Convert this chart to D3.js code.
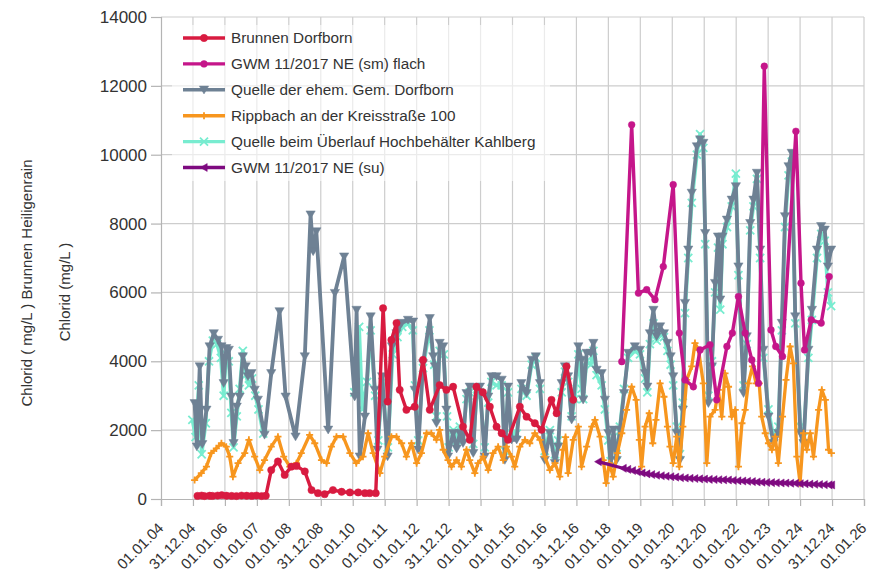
<!DOCTYPE html>
<html>
<head>
<meta charset="utf-8">
<script src="https://cdn.jsdelivr.net/npm/d3@7"></script>
<style>
  html, body { margin: 0; padding: 0; background: #fff; }
  svg { display: block; font-family: "Liberation Sans", Arial, sans-serif; }
</style>
</head>
<body>
<svg id="chart" width="869" height="583"></svg>
<script>
// Chloride measurements (mg/L), dates as decimal years.
const tickLabels = ["01.01.04","31.12.04","01.01.06","01.01.07","01.01.08","31.12.08","01.01.10",
  "01.01.11","01.01.12","31.12.12","01.01.14","01.01.15","01.01.16","31.12.16","01.01.18","01.01.19",
  "01.01.20","31.12.20","01.01.22","01.01.23","01.01.24","31.12.24","01.01.26"];
const yTicks = [0, 2000, 4000, 6000, 8000, 10000, 12000, 14000];

const brunnenDorfborn = [[2005.14,90],[2005.27,100],[2005.36,85],[2005.52,95],[2005.61,90],[2005.77,100],
  [2005.90,110],[2006.05,95],[2006.21,90],[2006.36,85],[2006.52,100],[2006.68,95],[2006.84,90],[2006.99,100],
  [2007.15,85],[2007.28,95],[2007.45,840],[2007.66,1090],[2007.87,700],[2008.08,940],[2008.24,960],[2008.50,800],
  [2008.71,260],[2008.91,170],[2009.12,140],[2009.38,260],[2009.65,210],[2009.91,190],[2010.17,190],[2010.38,170],
  [2010.53,170],[2010.72,170],[2010.95,5540],[2011.09,2830],[2011.21,4620],[2011.37,5110],[2011.47,3170],
  [2011.68,2590],[2011.94,2680],[2012.20,4040],[2012.41,2590],[2012.72,3310],[2012.93,3170],[2013.14,3260],
  [2013.45,2100],[2013.66,1720],[2013.87,3260],[2014.07,3100],[2014.29,2680],[2014.50,2100],[2014.66,1910],
  [2014.86,1720],[2015.23,2680],[2015.44,2390],[2015.70,2200],[2015.91,2010],[2016.22,2880],[2016.38,2490],
  [2016.69,3850],[2016.90,2880]];

const gwmFlach = [[2018.42,3990],[2018.73,10870],[2018.94,5980],[2019.20,6080],[2019.46,5790],[2019.72,6750],
  [2020.03,9130],[2020.22,4820],[2020.40,3460],[2020.66,3260],[2020.87,4330],[2021.18,4480],[2021.39,2880],
  [2021.71,4430],[2021.88,4820],[2022.07,5880],[2022.28,4820],[2022.49,4040],[2022.70,3360],[2022.88,12570],
  [2023.09,4910],[2023.24,4430],[2023.45,4140],[2023.87,10680],[2024.03,6270],[2024.14,4330],[2024.35,5200],
  [2024.66,5110],[2024.91,6460]];

const quelleDorfborn = [[2005.05,2780],[2005.12,1520],[2005.21,3850],[2005.29,1590],[2005.42,2590],[2005.52,4430],
  [2005.65,4810],[2005.78,4620],[2005.89,4430],[2005.96,3360],[2006.04,4380],[2006.12,4330],[2006.20,2970],
  [2006.27,1620],[2006.37,2680],[2006.46,2970],[2006.56,4140],[2006.65,3850],[2006.72,3560],[2006.83,3650],
  [2006.93,3170],[2007.03,2880],[2007.24,1860],[2007.45,3650],[2007.71,5450],[2007.90,2970],[2008.21,1810],
  [2008.50,4140],[2008.68,8260],[2008.76,7190],[2008.86,7770],[2009.23,2010],[2009.44,5980],[2009.73,7040],
  [2010.06,2970],[2010.12,5490],[2010.22,1230],[2010.38,2390],[2010.56,5300],[2010.69,3170],[2010.77,1430],
  [2010.92,3560],[2011.09,1230],[2011.23,4430],[2011.37,4810],[2011.53,5110],[2011.73,5200],[2011.89,5150],
  [2011.94,3170],[2012.05,1430],[2012.20,3940],[2012.41,5250],[2012.52,4140],[2012.57,3850],[2012.62,2200],
  [2012.72,4530],[2012.83,4430],[2012.93,2590],[2012.98,1230],[2013.14,1910],[2013.25,1460],[2013.35,1910],
  [2013.45,1620],[2013.56,3070],[2013.66,3260],[2013.77,1330],[2013.87,3170],[2013.98,3260],[2014.13,1230],
  [2014.24,2970],[2014.34,3560],[2014.50,3560],[2014.66,3460],[2014.76,1130],[2014.86,3260],[2014.97,1720],
  [2015.13,1720],[2015.28,3360],[2015.44,3070],[2015.60,4040],[2015.73,4140],[2015.86,3360],[2016.01,1130],
  [2016.17,1910],[2016.33,1040],[2016.43,1520],[2016.54,3360],[2016.64,3850],[2016.74,3560],[2016.85,2300],
  [2017.06,4430],[2017.16,4040],[2017.21,2880],[2017.32,4240],[2017.45,4240],[2017.53,4530],[2017.63,3750],
  [2017.79,3650],[2017.89,2880],[2018.00,1910],[2018.07,940],[2018.16,2010],[2018.26,1130],[2018.36,2010],
  [2018.49,3070],[2018.62,4240],[2018.83,4430],[2018.99,4330],[2019.15,3650],[2019.22,3260],[2019.30,4810],
  [2019.41,5490],[2019.51,4720],[2019.62,5010],[2019.74,4810],[2019.85,4530],[2019.95,4140],[2020.03,3560],
  [2020.14,1910],[2020.24,1130],[2020.33,2590],[2020.40,5690],[2020.50,7240],[2020.61,8890],[2020.77,10240],
  [2020.87,10440],[2020.97,10340],[2021.03,7720],[2021.13,2780],[2021.24,3850],[2021.34,6270],[2021.43,7620],
  [2021.50,5790],[2021.57,7620],[2021.71,8110],[2021.86,8690],[2021.99,9080],[2022.07,6750],[2022.23,3070],
  [2022.33,4720],[2022.44,8010],[2022.54,8690],[2022.65,9470],[2022.75,7240],[2022.85,4330],[2023.01,2390],
  [2023.17,1620],[2023.32,1910],[2023.43,5110],[2023.53,8210],[2023.64,9660],[2023.74,10050],[2023.85,5300],
  [2024.01,1910],[2024.11,1620],[2024.26,4330],[2024.37,5490],[2024.53,7240],[2024.66,7920],[2024.77,7820],
  [2024.87,6750],[2024.97,7240]];

const rippbach = [[2005.05,550],[2005.26,750],[2005.42,940],[2005.57,1330],[2005.73,1470],[2005.89,1620],
  [2006.04,1520],[2006.15,1230],[2006.25,650],[2006.41,1040],[2006.62,1330],[2006.75,1720],[2006.93,1230],
  [2007.09,840],[2007.24,1130],[2007.45,1520],[2007.66,1810],[2007.84,1230],[2008.03,940],[2008.24,1040],
  [2008.39,1330],[2008.65,1860],[2008.81,1620],[2009.02,1130],[2009.18,1040],[2009.33,1520],[2009.49,1810],
  [2009.70,1810],[2009.91,1330],[2010.11,1040],[2010.32,1230],[2010.48,1910],[2010.64,1330],[2010.85,750],
  [2011.00,1230],[2011.21,1810],[2011.37,1810],[2011.53,1620],[2011.68,1230],[2011.84,1620],[2012.00,1040],
  [2012.15,1330],[2012.31,1910],[2012.46,1910],[2012.62,1720],[2012.72,2010],[2012.83,1430],[2012.98,1130],
  [2013.09,940],[2013.25,1130],[2013.40,940],[2013.56,1430],[2013.66,1130],[2013.82,750],[2013.92,1040],
  [2014.08,1230],[2014.24,840],[2014.39,1330],[2014.55,1520],[2014.71,1130],[2014.81,1520],[2014.97,1230],
  [2015.07,940],[2015.23,1520],[2015.39,1720],[2015.54,1620],[2015.70,1910],[2015.86,1720],[2016.01,1230],
  [2016.17,840],[2016.33,1040],[2016.48,650],[2016.58,1430],[2016.66,1800],[2016.74,750],[2016.90,1720],
  [2017.06,2100],[2017.16,940],[2017.32,1520],[2017.48,2100],[2017.58,2300],[2017.74,1810],[2017.84,1130],
  [2017.93,460],[2018.03,1040],[2018.15,650],[2018.28,1330],[2018.42,1910],[2018.57,2590],[2018.73,3260],
  [2018.87,2880],[2018.97,1720],[2019.04,940],[2019.15,2100],[2019.28,2490],[2019.39,1620],[2019.49,2300],
  [2019.62,3360],[2019.74,2970],[2019.85,2100],[2019.93,1520],[2020.03,1040],[2020.14,1810],[2020.22,940],
  [2020.33,2100],[2020.45,3460],[2020.61,3850],[2020.71,4530],[2020.82,4330],[2020.97,3360],[2021.08,1040],
  [2021.18,2390],[2021.34,2590],[2021.44,3170],[2021.55,2390],[2021.65,3650],[2021.76,3260],[2021.86,2390],
  [2021.97,2590],[2022.07,940],[2022.18,2200],[2022.28,2590],[2022.38,3360],[2022.51,3850],[2022.62,3360],
  [2022.72,3360],[2022.80,2390],[2022.91,1910],[2023.01,1620],[2023.12,1430],[2023.22,1810],[2023.32,1040],
  [2023.45,2390],[2023.56,3460],[2023.69,4430],[2023.79,3940],[2023.90,1230],[2024.00,460],[2024.11,1910],
  [2024.21,1430],[2024.32,1910],[2024.42,1230],[2024.58,2590],[2024.68,3170],[2024.79,2880],[2024.89,1430],
  [2024.98,1330]];

// null marks the break in the record between 2007 and 2010
const hochbehaelterKahlberg = [[2004.98,2300],[2005.08,1800],[2005.18,3300],[2005.27,1300],[2005.40,2200],
  [2005.50,4000],[2005.62,4600],[2005.75,4500],[2005.87,4100],[2005.96,3000],[2006.04,4200],[2006.12,4000],
  [2006.20,2500],[2006.27,1500],[2006.37,2400],[2006.46,3200],[2006.56,4300],[2006.65,3600],[2006.75,3300],
  [2006.85,3500],[2006.95,3000],[2007.05,2600],[2007.20,1900],[2008.5,null],
  [2010.05,3100],[2010.20,5000],[2010.30,2600],[2010.45,3400],[2010.56,4900],[2010.70,3000],[2010.80,1700],
  [2010.93,3400],[2011.10,1500],[2011.25,4200],[2011.40,4700],[2011.55,5000],[2011.73,5100],[2011.88,4900],
  [2011.95,3300],[2012.05,1700],[2012.20,3800],[2012.40,4900],[2012.55,3900],[2012.62,2400],[2012.72,4300],
  [2012.85,4200],[2012.95,2400],[2013.00,1500],[2013.15,2000],[2013.25,1700],[2013.35,2100],[2013.45,1800],
  [2013.56,2900],[2013.66,3100],[2013.77,1600],[2013.88,3000],[2013.98,3100],[2014.13,1500],[2014.24,2800],
  [2014.34,3400],[2014.50,3300],[2014.66,3300],[2014.76,1400],[2014.86,3100],[2014.97,1900],[2015.13,1900],
  [2015.28,3200],[2015.44,3000],[2015.60,3900],[2015.73,4100],[2015.86,3200],[2016.01,1400],[2016.17,2000],
  [2016.33,1300],[2016.43,1700],[2016.54,3100],[2016.64,3700],[2016.74,3400],[2016.85,2400],[2016.95,2900],
  [2017.06,4200],[2017.16,3200],[2017.21,2900],[2017.32,4000],[2017.45,3900],[2017.53,4300],[2017.63,3600],
  [2017.79,3300],[2017.89,2600],[2018.00,1700],[2018.07,1100],[2018.16,1800],[2018.26,1300],[2018.36,2100],
  [2018.49,3200],[2018.62,4100],[2018.83,4300],[2018.99,4200],[2019.15,3500],[2019.22,3100],[2019.30,4500],
  [2019.41,5100],[2019.51,4600],[2019.62,4800],[2019.74,4700],[2019.85,4300],[2019.95,3900],[2020.03,3300],
  [2020.14,2100],[2020.24,1300],[2020.33,2800],[2020.40,5400],[2020.50,7000],[2020.61,8600],[2020.77,10000],
  [2020.87,10600],[2020.97,10200],[2021.03,7400],[2021.13,3000],[2021.24,4000],[2021.34,6000],[2021.43,7300],
  [2021.50,5500],[2021.57,7400],[2021.71,7900],[2021.86,8500],[2021.99,9450],[2022.07,6500],[2022.23,3300],
  [2022.33,4500],[2022.44,7800],[2022.54,8500],[2022.65,9300],[2022.75,7000],[2022.85,4100],[2023.01,2600],
  [2023.17,1800],[2023.32,2100],[2023.43,4900],[2023.53,7900],[2023.64,9400],[2023.74,9800],[2023.85,5100],
  [2024.01,2100],[2024.11,1800],[2024.26,4100],[2024.37,5200],[2024.53,7000],[2024.66,7700],[2024.77,7500],
  [2024.87,6000],[2024.97,5600]];

const gwmSu = [[2017.68,1085],[2018.46,892],[2018.60,860],[2018.75,825],[2018.90,790],[2019.05,755],[2019.20,730],
  [2019.35,710],[2019.50,690],[2019.65,675],[2019.80,660],[2019.95,648],[2020.10,635],[2020.25,620],[2020.40,610],
  [2020.55,600],[2020.70,594],[2020.85,585],[2021.00,578],[2021.15,570],[2021.30,565],[2021.45,560],[2021.60,556],
  [2021.75,552],[2021.90,540],[2022.05,530],[2022.20,522],[2022.35,515],[2022.50,505],[2022.65,495],[2022.80,487],
  [2022.95,480],[2023.10,476],[2023.25,470],[2023.40,466],[2023.55,462],[2023.70,458],[2023.85,455],[2024.00,445],
  [2024.15,440],[2024.30,432],[2024.45,426],[2024.60,420],[2024.75,415],[2024.90,410],[2024.98,407]];

// ---- marker shapes ----
const downTriangle = { draw(ctx, size) { const s = Math.sqrt(size) * 0.62;
  ctx.moveTo(-s, -s * 0.8); ctx.lineTo(s, -s * 0.8); ctx.lineTo(0, s * 0.9); ctx.closePath(); } };
const leftTriangle = { draw(ctx, size) { const s = Math.sqrt(size) * 0.62;
  ctx.moveTo(-s * 0.9, 0); ctx.lineTo(s * 0.8, -s); ctx.lineTo(s * 0.8, s); ctx.closePath(); } };
const plusShape = { draw(ctx, size) { const s = Math.sqrt(size) * 0.5;
  ctx.moveTo(-s, 0); ctx.lineTo(s, 0); ctx.moveTo(0, -s); ctx.lineTo(0, s); } };
const timesShape = { draw(ctx, size) { const s = Math.sqrt(size) * 0.45;
  ctx.moveTo(-s, -s); ctx.lineTo(s, s); ctx.moveTo(-s, s); ctx.lineTo(s, -s); } };

const series = [
  { key: "red",  name: "Brunnen Dorfborn", data: brunnenDorfborn, color: "#d81b40",
    shape: d3.symbolCircle, size: 42, filled: true, width: 3.4 },
  { key: "mag",  name: "GWM 11/2017 NE (sm) flach", data: gwmFlach, color: "#c5168a",
    shape: d3.symbolCircle, size: 36, filled: true, width: 3.4 },
  { key: "gray", name: "Quelle der ehem. Gem. Dorfborn", data: quelleDorfborn, color: "#6e8194",
    shape: downTriangle, size: 56, filled: true, width: 3.8 },
  { key: "org",  name: "Rippbach an der Kreisstraße 100", data: rippbach, color: "#f7961e",
    shape: plusShape, size: 50, filled: false, width: 3.3 },
  { key: "aqua", name: "Quelle beim Überlauf Hochbehälter Kahlberg", data: hochbehaelterKahlberg, color: "#78ecd0",
    shape: timesShape, size: 80, filled: false, width: 3.6 },
  { key: "pur",  name: "GWM 11/2017 NE (su)", data: gwmSu, color: "#7e0a80",
    shape: leftTriangle, size: 42, filled: true, width: 3.2 }
];
const drawOrder = ["aqua", "gray", "org", "pur", "red", "mag"];

// ---- layout ----
const svg = d3.select("#chart");
const W = 869, H = 583;
const margin = { top: 17, right: 5, bottom: 84, left: 161 };
const width = W - margin.left - margin.right;
const height = H - margin.top - margin.bottom;
const g = svg.append("g").attr("transform", `translate(${margin.left},${margin.top})`);

function toDate(dec) {
  const yr = Math.floor(dec);
  const a = Date.UTC(yr, 0, 1), b = Date.UTC(yr + 1, 0, 1);
  return new Date(a + (dec - yr) * (b - a));
}

const xStart = new Date(Date.UTC(2004, 0, 1)), xEnd = new Date(Date.UTC(2026, 0, 1));
const x = d3.scaleUtc().domain([xStart, xEnd]).range([0, width]);
const y = d3.scaleLinear().domain([0, 14000]).range([height, 0]);
const tickDates = tickLabels.map((_, i) =>
  new Date(+xStart + i * (xEnd - xStart) / (tickLabels.length - 1)));

// gridlines
g.append("g").selectAll("line").data(yTicks.slice(1)).join("line")
  .attr("x1", 0).attr("x2", width).attr("y1", d => y(d)).attr("y2", d => y(d))
  .attr("stroke", "#cdcdcd").attr("stroke-width", 1.2);
g.append("g").selectAll("line").data(tickDates.slice(1)).join("line")
  .attr("x1", d => x(d)).attr("x2", d => x(d)).attr("y1", 0).attr("y2", height)
  .attr("stroke", "#cdcdcd").attr("stroke-width", 1.2);

// y axis
const yAxis = g.append("g").call(d3.axisLeft(y).tickValues(yTicks).tickSize(10).tickPadding(4)
  .tickFormat(d3.format("d")));
yAxis.select(".domain").attr("stroke", "#b4b4b4").attr("stroke-width", 1.2);
yAxis.selectAll(".tick line").attr("stroke", "#b4b4b4").attr("stroke-width", 1.2);
yAxis.selectAll(".tick text").attr("font-size", 17).attr("fill", "#333")
  .attr("font-family", '"Liberation Sans", Arial, sans-serif');

// x axis
const xAxis = g.append("g").attr("transform", `translate(0,${height})`)
  .call(d3.axisBottom(x).tickValues(tickDates).tickSize(7).tickFormat((d, i) => tickLabels[i]));
xAxis.select(".domain").attr("stroke", "#b4b4b4").attr("stroke-width", 1.2);
xAxis.selectAll(".tick line").attr("stroke", "#b4b4b4").attr("stroke-width", 1.2);
xAxis.selectAll(".tick text")
  .attr("font-size", 15).attr("fill", "#333")
  .attr("font-family", '"Liberation Sans", Arial, sans-serif')
  .attr("text-anchor", "end")
  .attr("y", 0).attr("dy", 0)
  .attr("transform", "translate(3,30) rotate(-45)");

// series
const line = d3.line()
  .defined(d => d[1] != null)
  .x(d => x(toDate(d[0])))
  .y(d => y(d[1]));

const byKey = Object.fromEntries(series.map(s => [s.key, s]));
drawOrder.forEach(k => {
  const s = byKey[k];
  const sg = g.append("g");
  sg.append("path").datum(s.data).attr("d", line)
    .attr("fill", "none").attr("stroke", s.color).attr("stroke-width", s.width)
    .attr("stroke-linejoin", "round");
  const sym = d3.symbol().type(s.shape).size(s.size);
  sg.selectAll("path.m").data(s.data.filter(d => d[1] != null)).join("path")
    .attr("class", "m")
    .attr("transform", d => `translate(${x(toDate(d[0]))},${y(d[1])})`)
    .attr("d", sym)
    .attr("fill", s.filled ? s.color : "none")
    .attr("stroke", s.color).attr("stroke-width", s.filled ? 0.5 : 1.8);
});

// legend
const lg = svg.append("g");
lg.append("rect").attr("x", 172).attr("y", 25).attr("width", 378).attr("height", 156)
  .attr("fill", "#fff").attr("opacity", 0.6);
series.forEach((s, i) => {
  const yy = 38 + i * 25.9;
  lg.append("line").attr("x1", 183).attr("x2", 225).attr("y1", yy).attr("y2", yy)
    .attr("stroke", s.color).attr("stroke-width", 3.4);
  lg.append("path").attr("transform", `translate(204,${yy})`)
    .attr("d", d3.symbol().type(s.shape).size(s.size)())
    .attr("fill", s.filled ? s.color : "none").attr("stroke", s.color)
    .attr("stroke-width", s.filled ? 0.5 : 1.8);
  lg.append("text").attr("x", 231).attr("y", yy).attr("dy", "0.35em")
    .attr("font-size", 15.3).attr("fill", "#333").text(s.name);
});

// axis titles
svg.append("text").attr("transform", "translate(27,283) rotate(-90)")
  .attr("text-anchor", "middle").attr("dy", "0.35em").attr("font-size", 15).attr("fill", "#333")
  .text("Chlorid  ( mg/L ) Brunnen Heiligenrain");
svg.append("text").attr("transform", "translate(65,292) rotate(-90)")
  .attr("text-anchor", "middle").attr("dy", "0.35em").attr("font-size", 15).attr("fill", "#333")
  .text("Chlorid (mg/L )");
</script>
</body>
</html>
